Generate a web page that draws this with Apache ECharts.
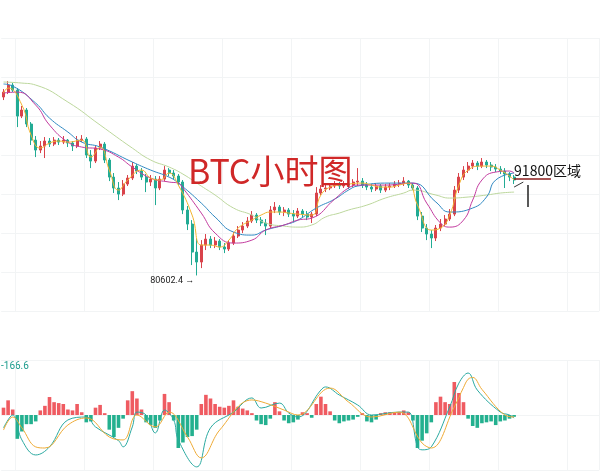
<!DOCTYPE html>
<html>
<head>
<meta charset="utf-8">
<script src="https://cdn.jsdelivr.net/npm/echarts@6/dist/echarts.min.js"></script>
<style>
  html, body { margin: 0; padding: 0; background: #fff; }
  #chart { width: 600px; height: 473px; }
</style>
</head>
<body>
<div id="chart"></div>
<script>
// 小时K线：开、收、低、高
const candles = [
  [101190,101760,100840,102110],[101760,102570,101530,103030],[102570,101990,101760,102800],[101990,98990,97720,102230],
  [98990,99690,98760,100150],[99690,98070,97720,99920],[98070,96220,95650,98300],[96220,95070,94260,96690],
  [95070,95530,94720,96110],[95530,96110,94150,96570],[96110,95760,95420,96460],[95760,96220,95530,96570],
  [96220,95990,95650,96460],[95990,96220,95760,96690],[96220,95880,95420,96340],[95880,95530,94960,96110],
  [95530,96220,95300,96690],[96220,96340,95990,96800],[96340,94490,94150,96570],[94490,93800,92990,95070],
  [93800,95300,93570,95530],[95300,95760,95070,96110],[95760,93920,93570,95990],[93920,91950,91490,94150],
  [91950,90690,90110,92420],[90690,89990,89300,91380],[89990,91150,89760,91610],[91150,91840,90920,92190],
  [91840,93220,91610,93690],[93220,92650,92300,93450],[92650,91950,91610,92990],[91950,91380,90220,92300],
  [91380,91720,90920,92190],[91720,90690,88720,92070],[90690,91720,90450,92070],[91720,92760,91490,93220],
  [92760,92420,92070,92990],[92420,92070,91720,92760],[92070,91380,91030,92300],[91380,88150,87680,91610],
  [88150,86530,85840,88610],[86530,83300,81800,86990],[83300,82150,80602.4,84920],[82150,84110,81450,84680],
  [84110,84800,83530,85380],[84800,84110,83760,85150],[84110,84570,83760,85030],[84570,83880,83530,84800],
  [83880,83650,83180,84340],[83650,84340,83420,84680],[84340,85150,84110,85610],[85150,85840,84920,86300],
  [85840,86300,85490,86760],[86300,86880,86070,87340],[86880,87570,86650,88030],[87570,86990,86650,87800],
  [86990,86650,86300,87340],[86650,86300,85260,87110],[86300,88150,86070,88610],[88150,88490,87800,89070],
  [88490,87920,87570,88720],[87920,88150,87450,88490],[88150,87680,87340,88380],[87680,87450,86760,88150],
  [87450,88030,87220,88380],[88030,87680,87340,88260],[87680,87340,86990,88030],[87340,87680,86650,87920],
  [87680,90110,87450,90800],[90110,90570,89880,91030],[90570,90690,90220,91150],[90690,90920,90450,91260],
  [90920,91150,90690,91490],[91150,90920,90570,91380],[90920,91150,90690,91490],[91150,91030,90570,91380],
  [91030,91380,90800,91720],[91380,91490,90920,92990],[91490,91030,90690,91840],[91030,90800,90450,91380],
  [90800,90570,90220,91150],[90570,90920,90340,91260],[90920,90450,90110,91150],[90450,90800,90220,91150],
  [90800,90920,90450,91260],[90920,91150,90690,91490],[91150,91260,90800,91610],[91260,91490,90920,91950],
  [91490,91030,90690,91610],[91030,90690,90450,91260],[90690,87450,86990,90920],[87450,86070,85610,87920],
  [86070,85380,84680,86530],[85380,84920,83760,85840],[84920,86070,84570,86420],[86070,86530,85720,87110],
  [86530,87110,86300,87570],[87110,87680,86880,88260],[87680,90450,87450,90920],[90450,91950,90110,92420],
  [91950,92760,91610,93220],[92760,93220,92420,93690],[93220,93570,92880,93920],[93570,93220,92760,93800],
  [93220,93690,92990,94150],[93690,93340,92990,93920],[93340,93110,92650,93690],[93110,92880,92530,93450],
  [92880,92650,92300,93220],[92650,92300,90690,92990],[92300,91950,91490,92530],[91950,91610,91150,92190]
];

// 均线（从图上读取的点，[序号, 价格]）
const maFast = [[0,101650],[1,102230],[4,100260],[6,96800],[8,95300],[10,95880],[12,96110],[14,95990],[17,96220],[19,94260],[21,95420],[23,92760],[25,90450],[27,91610],[30,92760],[32,91840],[34,91610],[36,92420],[38,91030],[41,87570],[43,84110],[45,84110],[47,83880],[49,84680],[51,86070],[54,86990],[56,87570],[58,87920],[60,87920],[62,87800],[64,87680],[67,87570],[69,89880],[71,90800],[73,91030],[75,91150],[78,91260],[80,91030],[82,90800],[84,90800],[86,91030],[88,91260],[90,88720],[93,85840],[95,86070],[97,87570],[99,91030],[101,92760],[104,93220],[106,93220],[108,92760],[110,92070],[111,91610]];
const maMid = [[0,101650],[3,101760],[7,100260],[10,97960],[14,95990],[17,95420],[21,95190],[25,94260],[28,93110],[32,91840],[36,91380],[38,91260],[39,90690],[43,87800],[46,85490],[50,84340],[54,84680],[57,85840],[61,86420],[64,86990],[67,87220],[72,89410],[75,90690],[77,91030],[83,91030],[89,91260],[92,88950],[95,86650],[97,86180],[100,86990],[102,89300],[104,91610],[107,92530],[110,92650],[111,92420]];
const maLong = [[0,102690],[2,102450],[7,100490],[10,98760],[14,97150],[17,95990],[21,95420],[28,93690],[32,92760],[36,91950],[38,91260],[43,88950],[46,87340],[50,85610],[54,85260],[57,85840],[61,86420],[64,86990],[68,88380],[72,89410],[75,90450],[77,90920],[84,91260],[89,91260],[94,89070],[97,87920],[102,88380],[105,89650],[107,91610],[111,92420]];
const maSlow = [[0,102920],[4,102800],[7,102570],[14,100610],[21,97960],[28,95300],[32,93920],[36,93110],[39,92300],[43,90910],[46,89880],[50,88380],[54,87570],[57,86650],[61,86300],[64,86180],[67,86420],[70,87340],[73,87800],[75,88150],[79,88720],[83,89530],[87,90110],[89,90450],[94,89880],[97,89530],[101,89650],[105,89880],[108,90110],[111,90220]];

// MACD
const macdHist = [400,800,300,-1300,-900,-500,-500,-350,250,500,980,700,650,600,300,250,600,150,-400,-350,400,550,100,-800,-1200,-700,-200,800,1300,900,300,-400,-550,-700,-300,1150,700,-300,-1800,-1500,-1200,-1150,-800,600,1100,900,600,450,400,500,800,450,350,250,100,-300,-500,-550,-200,700,200,-300,-450,-400,-250,150,100,-150,600,1000,600,200,-300,-450,-350,-300,-250,-100,100,-350,-400,-250,100,150,150,120,150,250,150,-300,-1800,-1400,-1000,-400,700,1000,700,600,1800,1200,700,-200,-600,-700,-450,-400,-350,-550,-350,-300,-200,-100];
const dif = [[0,-700],[2,0],[4,-1360],[7,-2180],[10,-1740],[14,-270],[18,-110],[20,-650],[25,-1400],[26,-1740],[28,-650],[29,160],[31,0],[33,-980],[35,270],[37,-270],[38,-1360],[42,-2830],[45,-700],[50,160],[54,930],[56,380],[60,650],[62,110],[64,-110],[69,1360],[70,1530],[73,1090],[77,545],[80,0],[86,160],[88,160],[90,-1740],[91,-1900],[93,-1740],[97,440],[99,1740],[101,2290],[103,1360],[108,160],[110,0],[111,-166.6]];
const dea = [[0,-820],[2,-110],[4,-700],[7,-1740],[9,-1800],[14,-545],[18,-160],[23,-1200],[26,-1360],[29,0],[33,-650],[36,160],[40,-1200],[43,-2340],[47,-820],[54,820],[57,650],[61,270],[64,0],[71,1470],[75,710],[80,-110],[86,160],[91,-1530],[93,-1800],[98,440],[100,1500],[101,1950],[102,2050],[104,1400],[109,0],[111,-110]];

const areaLevel = 91800;   // 标注价位
const totalBars = 130;     // 含右侧留白

// 小时刻度
const categories = [];
for (let i = 0; i < totalBars; i++) {
  const d = new Date(Date.UTC(2025, 10, 16, 8) + i * 3600000);
  categories.push((d.getUTCMonth() + 1) + '/' + d.getUTCDate() + ' ' + d.getUTCHours() + ':00');
}

const lowPrice = Math.min(...candles.map(c => c[2]));
const lowIndex = candles.findIndex(c => c[2] === lowPrice);

const gridColor = '#f2f4f5';
const splitEvery = (index) => index % 15 === 3;

const xAxisBase = (gridIndex) => ({
  type: 'category',
  gridIndex,
  data: categories,
  axisLine: { show: false },
  axisTick: { show: false },
  axisLabel: { show: false },
  splitLine: { show: true, interval: splitEvery, lineStyle: { color: gridColor } }
});

const maLine = (data, color) => ({
  type: 'line',
  data,
  smooth: true,
  showSymbol: false,
  silent: true,
  lineStyle: { width: 1, color }
});

const chart = echarts.init(document.getElementById('chart'));

chart.setOption({
  animation: false,
  title: {
    text: 'BTC小时图',
    left: 183,
    top: 149,
    textStyle: { color: '#d02828', fontSize: 34, fontWeight: 'normal', fontFamily: 'Noto Sans CJK SC' }
  },
  graphic: [{
    type: 'text',
    left: 1,
    top: 361,
    style: { text: String(dif[dif.length - 1][1]), fill: '#1b9b8c', fontSize: 10, fontFamily: 'Roboto' }
  }],
  grid: [
    { left: 1.2, width: 598, top: 38, height: 273 },
    { left: 1.2, width: 598, top: 360, height: 110 }
  ],
  xAxis: [xAxisBase(0), xAxisBase(1)],
  yAxis: [
    {
      gridIndex: 0, min: 76500, max: 108000, interval: 4500,
      axisLine: { show: false }, axisTick: { show: false }, axisLabel: { show: false },
      splitLine: { lineStyle: { color: gridColor } }
    },
    {
      gridIndex: 1, min: -3000, max: 3000, interval: 3000,
      axisLine: { show: false }, axisTick: { show: false }, axisLabel: { show: false },
      splitLine: { lineStyle: { color: gridColor } }
    }
  ],
  series: [
    {
      type: 'candlestick',
      data: candles,
      barWidth: 2.5,
      itemStyle: {
        color: '#d9434b', color0: '#22ab94',
        borderColor: '#d9434b', borderColor0: '#22ab94', borderWidth: 1
      },
      markPoint: {
        symbol: 'circle',
        symbolSize: 1,
        itemStyle: { color: 'rgba(0,0,0,0)' },
        data: [{ coord: [lowIndex, lowPrice], value: lowPrice }],
        label: {
          show: true, position: 'left', offset: [3, 5],
          formatter: (p) => p.value + ' →',
          color: '#222', fontSize: 9, fontFamily: 'Roboto'
        }
      },
      markLine: {
        silent: true,
        symbol: ['none', 'none'],
        data: [
          [
            { coord: [111, areaLevel], lineStyle: { color: '#8b1d1d', width: 1.5, type: 'solid' },
              label: { show: true, position: 'insideStartTop', distance: [0, 1], formatter: areaLevel + '区域',
                color: '#111', fontSize: 14, fontFamily: 'Noto Sans CJK SC' } },
            { coord: [119, areaLevel] }
          ],
          [
            { coord: [111, 90800], lineStyle: { color: '#333', width: 1, type: 'solid' }, label: { show: false } },
            { coord: [113, 91380] }
          ],
          [
            { coord: [114, 91030], lineStyle: { color: '#222', width: 1.5, type: 'solid' }, label: { show: false } },
            { coord: [114, 88490] }
          ]
        ]
      }
    },
    maLine(maSlow, '#bcd79c'),
    maLine(maLong, '#2f88c2'),
    maLine(maMid, '#c23a9e'),
    maLine(maFast, '#f2b431'),
    {
      type: 'bar',
      xAxisIndex: 1,
      yAxisIndex: 1,
      data: macdHist,
      barWidth: 3.6,
      silent: true,
      itemStyle: { color: (p) => p.value >= 0 ? '#ef5b61' : '#23b08f' }
    },
    Object.assign(maLine(dif, '#2aa9a0'), { xAxisIndex: 1, yAxisIndex: 1, smooth: 0.4 }),
    Object.assign(maLine(dea, '#eeaa35'), { xAxisIndex: 1, yAxisIndex: 1, smooth: 0.4 })
  ]
});
</script>
</body>
</html>
